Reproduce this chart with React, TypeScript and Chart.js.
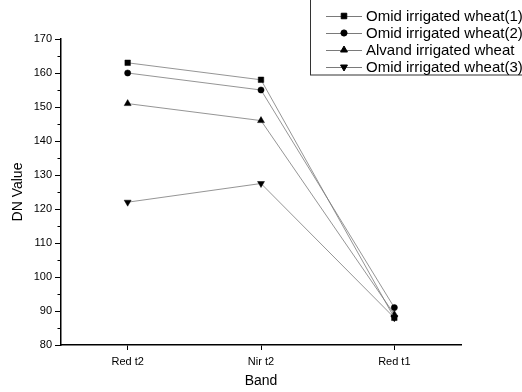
import React, { useEffect, useRef } from 'react';
import { Chart, registerables } from 'chart.js';
import { drawPoint } from 'chart.js/helpers';

Chart.register(...registerables);

const categories = ['Red t2', 'Nir t2', 'Red t1'];
const seriesNames = [
  'Omid irrigated wheat(1)',
  'Omid irrigated wheat(2)',
  'Alvand irrigated wheat',
  'Omid irrigated wheat(3)',
];
const omid1 = [163, 158, 88];
const omid2 = [160, 155, 91];
const alvand = [151, 146, 89];
const omid3 = [122, 127.5, 88];
const yMin = 80;
const yMax = 170;
const yStep = 10;

const FONT = '"Liberation Sans", Arial, sans-serif';
const LINE_COLOR = '#7a7a7a';

const markers = [
  { style: 'rect', radius: 3.9, rotation: 0 },
  { style: 'circle', radius: 3.1, rotation: 0 },
  { style: 'triangle', radius: 4, rotation: 0 },
  { style: 'triangle', radius: 4, rotation: 180 },
];

const minorTicks = {
  id: 'minorTicks',
  afterDraw(chart: any) {
    const y = chart.scales.y;
    const ctx = chart.ctx;
    ctx.save();
    ctx.strokeStyle = '#000';
    ctx.lineWidth = 1;
    for (let v = yMin + yStep / 2; v < yMax; v += yStep) {
      const py = Math.round(y.getPixelForValue(v)) + 0.5;
      ctx.beginPath();
      ctx.moveTo(chart.chartArea.left - 3.5, py);
      ctx.lineTo(chart.chartArea.left, py);
      ctx.stroke();
    }
    ctx.restore();
  },
};

const boxLegend = {
  id: 'boxLegend',
  afterDraw(chart: any) {
    const ctx = chart.ctx;
    ctx.save();
    ctx.fillStyle = '#fff';
    ctx.fillRect(310, -2, 230, 77);
    ctx.strokeStyle = '#333';
    ctx.lineWidth = 1;
    ctx.strokeRect(310.5, -2, 230, 77);
    chart.data.datasets.forEach((ds: any, i: number) => {
      const cy = 16 + i * 17;
      ctx.strokeStyle = LINE_COLOR;
      ctx.lineWidth = 1;
      ctx.beginPath();
      ctx.moveTo(326, cy + 0.5);
      ctx.lineTo(362, cy + 0.5);
      ctx.stroke();
      ctx.fillStyle = '#000';
      ctx.strokeStyle = '#000';
      drawPoint(ctx, {
        pointStyle: ds.pointStyle,
        radius: ds.pointRadius,
        rotation: ds.pointRotation,
        borderWidth: 1,
      } as any, 344, cy);
      ctx.fillStyle = '#000';
      ctx.font = '15px ' + FONT;
      ctx.textBaseline = 'middle';
      ctx.textAlign = 'left';
      ctx.fillText(ds.label, 366, cy + 1);
    });
    ctx.restore();
  },
};

export default function App() {
  const ref = useRef<HTMLCanvasElement>(null);
  useEffect(() => {
    if (!ref.current) return;
    const values = [omid1, omid2, alvand, omid3];
    const chart = new Chart(ref.current, {
      type: 'line',
      data: {
        labels: categories,
        datasets: values.map((d, i) => ({
          label: seriesNames[i],
          data: d,
          borderColor: LINE_COLOR,
          borderWidth: 0.8,
          backgroundColor: '#000',
          pointBackgroundColor: '#000',
          pointBorderColor: '#000',
          pointBorderWidth: 0.5,
          pointStyle: markers[i].style as any,
          pointRadius: markers[i].radius,
          pointRotation: markers[i].rotation,
          tension: 0,
        })),
      },
      options: {
        responsive: false,
        animation: false,
        layout: { padding: { top: 39, right: 61, left: 0, bottom: 0 } },
        plugins: {
          legend: { display: false },
          tooltip: { enabled: false },
        },
        scales: {
          x: {
            type: 'category',
            offset: true,
            grid: {
              offset: false,
              drawOnChartArea: false,
              tickLength: 5,
              tickColor: '#000',
              tickWidth: 1,
            },
            border: { display: true, color: '#000', width: 1.5 },
            ticks: {
              color: '#000',
              font: { family: FONT, size: 11 },
              padding: 5,
              maxRotation: 0,
            },
            title: {
              display: true,
              text: 'Band',
              color: '#000',
              font: { family: FONT, size: 14 },
              padding: { top: 0, bottom: 2 },
            },
            afterFit(scale: any) {
              scale.height = 47;
            },
          },
          y: {
            min: yMin,
            max: yMax,
            grid: {
              drawOnChartArea: false,
              tickLength: 6,
              tickColor: '#000',
              tickWidth: 1,
            },
            border: { display: true, color: '#000', width: 1.5 },
            ticks: {
              stepSize: yStep,
              color: '#000',
              font: { family: FONT, size: 11 },
              padding: 3,
            },
            title: {
              display: true,
              text: 'DN Value',
              color: '#000',
              font: { family: FONT, size: 14 },
              padding: { top: 10, bottom: 0 },
            },
            afterFit(scale: any) {
              scale.width = 61;
            },
          },
        },
      },
      plugins: [minorTicks, boxLegend],
    });
    return () => chart.destroy();
  }, []);
  return (
    <div style={{ position: 'absolute', left: 0, top: 0, width: 522, height: 392, background: '#fff' }}>
      <canvas ref={ref} width={522} height={392} />
    </div>
  );
}
